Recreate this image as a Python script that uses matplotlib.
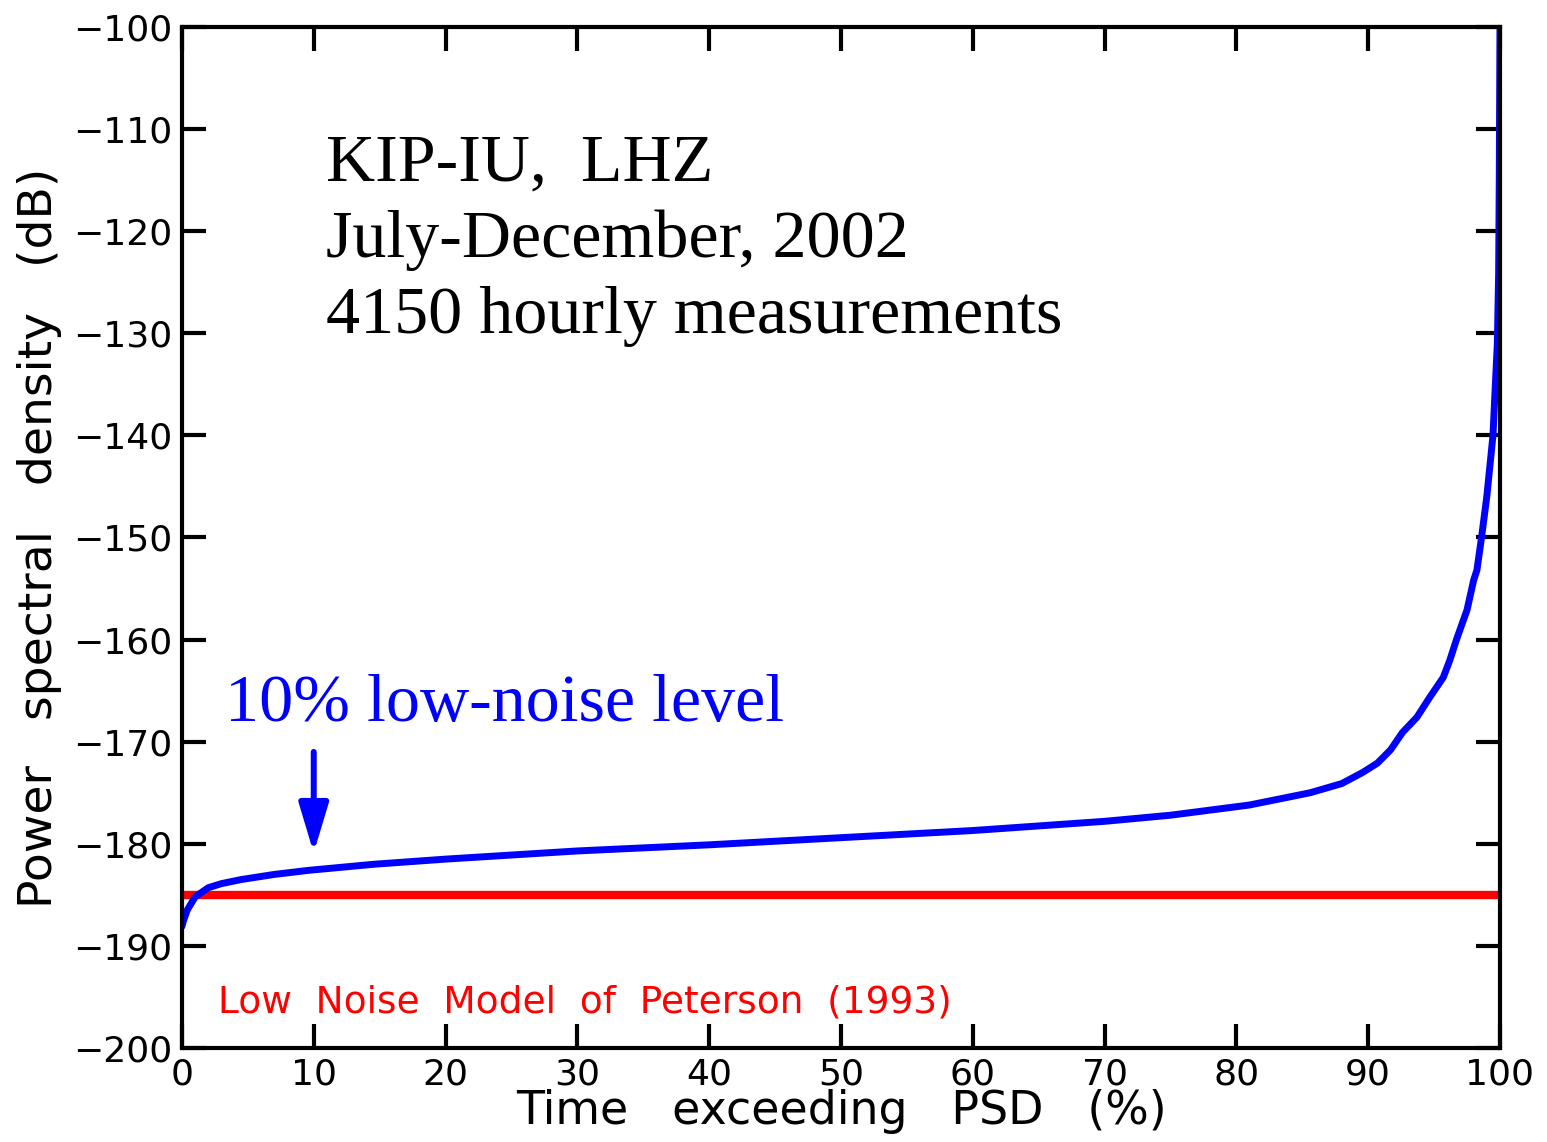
import numpy as np
import matplotlib.pyplot as plt

# cumulative PSD curve
pct = [0, 0.1, 0.4, 1, 2, 3, 4.5, 7, 9.6, 14.6, 20, 30, 40, 50, 60, 70, 75, 81, 85.6,
       88.0, 89.6, 90.7, 91.7, 92.6, 93.7, 94.7, 95.7, 96.2, 96.7, 97.5, 98.0, 98.25,
       98.6, 99.0, 99.47, 99.65, 99.8, 99.9, 99.95, 100]
psd = [-188.1, -187.6, -186.5, -185.2, -184.3, -183.9, -183.5, -183.0, -182.6, -182.0,
       -181.5, -180.7, -180.1, -179.4, -178.7, -177.8, -177.2, -176.2, -175.0,
       -174.1, -173.0, -172.1, -170.8, -169.1, -167.6, -165.6, -163.7, -162.0, -160.0,
       -157.1, -154.2, -153.2, -150.0, -146.0, -140.0, -135.0, -131.0, -124.0,
       -114.0, -100.0]
nlnm_level = -185.0

xticks = np.arange(0, 101, 10)
yticks = np.arange(-200, -99, 10)

fig = plt.figure(figsize=(15.47, 11.42), dpi=100)
ax = fig.add_axes([0.1176, 0.0823, 0.9696 - 0.1176, 0.9764 - 0.0823])

ax.plot([0, 100], [nlnm_level, nlnm_level], color='#ff0000', lw=6, solid_capstyle='butt')
ax.plot(pct, psd, color='#0000ff', lw=5, solid_capstyle='round', solid_joinstyle='round')

ax.set_xlim(0, 100)
ax.set_ylim(-200, -100)
ax.set_xticks(xticks)
ax.set_yticks(yticks)
ax.set_yticklabels(['\u2212%d' % abs(v) for v in yticks])

for s in ax.spines.values():
    s.set_linewidth(3)
ax.tick_params(direction='in', length=17, width=3, top=True, right=True,
               labelsize=26, pad=7)

ax.set_xlabel('Time   exceeding   PSD   (%)', fontsize=33, labelpad=-2)
ax.set_ylabel('Power   spectral   density   (dB)', fontsize=34, labelpad=8)

serif = 'Liberation Serif'
ax.text(10.9, -115, 'KIP-IU,  LHZ', family=serif, fontsize=49)
ax.text(10.9, -122.5, 'July-December, 2002', family=serif, fontsize=49)
ax.text(10.9, -130, '4150 hourly measurements', family=serif, fontsize=49)
ax.text(3.3, -168, '10% low-noise level', family=serif, fontsize=49, color='#0000ff')

ax.annotate('', xy=(10, -180.9), xytext=(10, -171),
            arrowprops=dict(arrowstyle='-|>,head_length=1.5,head_width=0.45',
                            mutation_scale=20, color='#0000ff', lw=4.3,
                            shrinkA=0, shrinkB=0))

ax.text(2.7, -196.5, 'Low  Noise  Model  of  Peterson  (1993)', fontsize=27, color='#ff0000')

fig.savefig('out.png', dpi=100)
